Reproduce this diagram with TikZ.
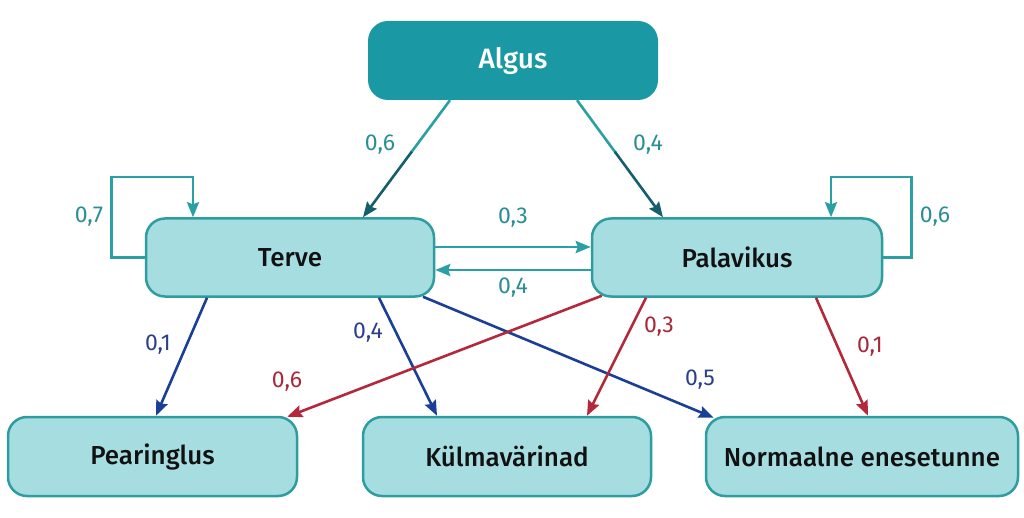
\documentclass[tikz,border=0pt]{standalone}
\usepackage{fontspec}
\setmainfont{Fira Sans}
\newfontfamily\nodefont{Fira Sans Medium}
\usetikzlibrary{arrows.meta,calc}
\definecolor{boxfill}{HTML}{A6DDE1}
\definecolor{boxline}{HTML}{2E9DA0}
\definecolor{startfill}{HTML}{1A98A4}
\definecolor{edgeteal}{HTML}{2BA0A4}
\definecolor{darkteal}{HTML}{155F6C}
\definecolor{edgeblue}{HTML}{1A3F96}
\definecolor{edgered}{HTML}{B3283A}
\definecolor{labteal}{HTML}{2A8F95}
\definecolor{labblue}{HTML}{2B3F8C}
\definecolor{labred}{HTML}{A8283A}
\definecolor{txt}{HTML}{111111}
\tikzset{
  state/.style={draw=boxline, line width=2.5pt, fill=boxfill, rounded corners=19pt,
    text=txt, font=\nodefont\fontsize{26}{30}\selectfont, minimum height=78pt, inner sep=0pt},
  startbox/.style={fill=startfill, rounded corners=20pt, text=white,
    font=\nodefont\fontsize{28}{32}\selectfont, minimum width=290pt, minimum height=79pt, inner sep=0pt},
  conn/.style={line width=2.6pt, -{Stealth[length=15pt,width=12pt,inset=2pt]}},
  tealconn/.style={conn, edgeteal},
  blueconn/.style={conn, edgeblue},
  redconn/.style={conn, edgered},
  lab/.style={font=\fontsize{23}{25}\selectfont, inner sep=0pt},
}
\begin{document}
\begin{tikzpicture}[x=1pt,y=-1pt]
\useasboundingbox (0,0) rectangle (1024,518);
\fill[white] (0,0) rectangle (1024,518);

\node[startbox] (algus) at (513,60.5) {Algus};
\node[state, minimum width=288pt] (terve) at (290,257.5) {Terve};
\node[state, minimum width=290pt] (palav) at (737,257.5) {Palavikus};
\node[state, minimum width=289pt, minimum height=79pt] (pear) at (152.5,456.5) {Pearinglus};
\node[state, minimum width=288pt, minimum height=79pt] (kulm) at (507,456.5) {Külmavärinad};
\node[state, minimum width=312pt, minimum height=79pt] (norm) at (862,456.5) {Normaalne enesetunne};

% Algus -> Terve (teal fading to dark)
\coordinate (a1s) at ($(algus.south)+(-63,0)$);
\coordinate (a1e) at ($(terve.north)+(73,0)$);
\draw[line width=2.6pt, edgeteal] (a1s) -- ($(a1s)!0.45!(a1e)$);
\draw[conn, darkteal] ($(a1s)!0.44!(a1e)$) -- (a1e);
% Algus -> Palavikus
\coordinate (a2s) at ($(algus.south)+(64,0)$);
\coordinate (a2e) at ($(palav.north)+(-74,0)$);
\draw[line width=2.6pt, edgeteal] (a2s) -- ($(a2s)!0.45!(a2e)$);
\draw[conn, darkteal] ($(a2s)!0.44!(a2e)$) -- (a2e);

% self loops
\draw[tealconn] (terve.west) -- ++(-33,0) -- ++(0,-80.5) -| ($(terve.north)+(-97,0)$);
\draw[tealconn] (palav.east) -- ++(28,0) -- ++(0,-80.5) -| ($(palav.north)+(94,0)$);

% Terve <-> Palavikus
\draw[tealconn] ($(terve.east)+(0,-10.5)$) -- ($(palav.west)+(0,-10.5)$);
\draw[tealconn] ($(palav.west)+(0,12.5)$) -- ($(terve.east)+(0,12.5)$);

% Terve -> outcomes (blue)
\draw[blueconn] ($(terve.south)+(-83,0)$) -- ($(pear.north)+(3.5,0)$);
\draw[blueconn] ($(terve.south)+(89,0)$) -- ($(kulm.north)+(-70,0)$);
\draw[blueconn] ($(terve.south)+(133,-1)$) -- ($(norm.north west)+(9,2)$);

% Palavikus -> outcomes (red)
\draw[redconn] ($(palav.south west)+(11,-2)$) -- ($(pear.north east)+(-11,1)$);
\draw[redconn] ($(palav.south)+(-91,0)$) -- ($(kulm.north)+(80,0)$);
\draw[redconn] ($(palav.south)+(79,0)$) -- ($(norm.north)+(6,0)$);

% labels
\node[lab, text=labteal] (l1) at (380,145) {0,6};
\node[lab, text=labteal] (l2) at (648,145) {0,4};
\node[lab, text=labteal] (l3) at (89,217) {0,7};
\node[lab, text=labteal] (l4) at (935,217) {0,6};
\node[lab, text=labteal] (l5) at (513,218) {0,3};
\node[lab, text=labteal] (l6) at (513,288) {0,4};
\node[lab, text=labblue] (l7) at (158,345) {0,1};
\node[lab, text=labblue] (l8) at (368,333) {0,4};
\node[lab, text=labblue] (l9) at (700,380) {0,5};
\node[lab, text=labred] (l10) at (287,382) {0,6};
\node[lab, text=labred] (l11) at (659,327) {0,3};
\node[lab, text=labred] (l12) at (870,347) {0,1};
\end{tikzpicture}
\end{document}
